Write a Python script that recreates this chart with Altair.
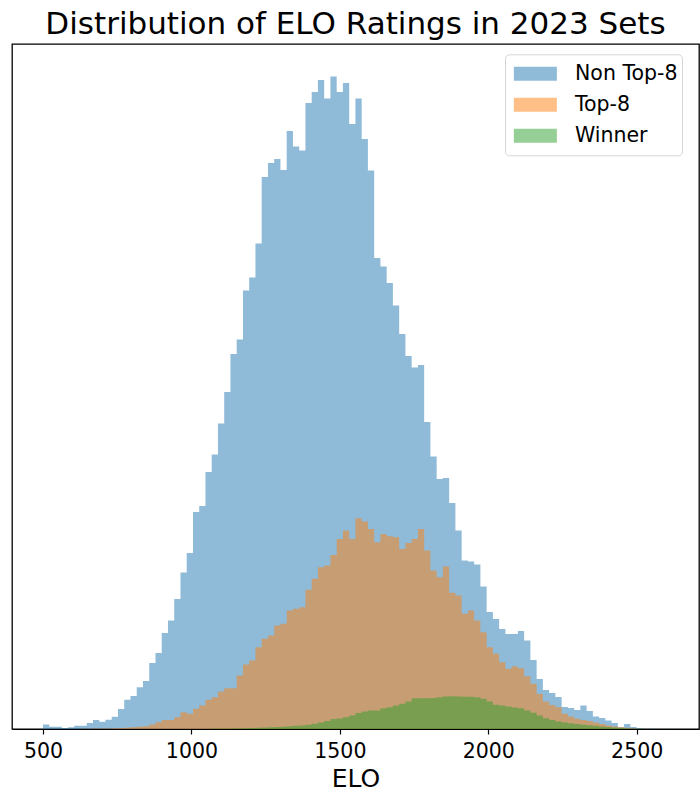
import altair as alt
import pandas as pd

# Shared bin layout of the three histograms (100 equal-width bins)
BIN_START = 500.0
BIN_WIDTH = 21.05

series_names = ["Non Top-8", "Top-8", "Winner"]
series_colors = ["#1f77b4", "#ff7f0e", "#2ca02c"]

# Bar heights per bin, left to right
non_top8 = [
    4.5, 2.3, 2.3, 1.0, 1.7, 3.3, 3.3, 6.0, 9.0, 7.3,
    9.3, 12.3, 20.0, 29.3, 33.0, 41.7, 48.0, 66.0, 76.0, 96.0,
    108.5, 130.0, 156.5, 176.0, 217.0, 223.0, 257.0, 274.5, 305.5, 337.0,
    375.0, 389.5, 438.5, 451.5, 485.5, 552.0, 566.0, 570.0, 559.0, 598.0,
    582.5, 578.5, 626.0, 637.0, 649.0, 630.5, 652.5, 637.0, 646.0, 605.0,
    630.5, 590.0, 558.5, 471.0, 462.5, 446.0, 423.5, 395.0, 373.0, 361.5,
    364.0, 307.0, 272.5, 250.0, 251.0, 226.0, 198.5, 168.5, 167.5, 164.5,
    142.5, 117.0, 110.0, 100.0, 95.0, 95.0, 98.0, 88.5, 69.0, 50.0,
    39.0, 36.0, 32.0, 22.0, 21.0, 19.0, 23.5, 18.0, 12.5, 11.0,
    8.5, 6.0, 2.0, 5.0, 2.0, 1.0, 0.5, 0.3, 0.0, 0.3,
]
top8 = [
    0.0, 0.0, 0.0, 0.0, 0.0, 0.0, 0.2, 0.3, 0.4, 0.5,
    0.6, 0.8, 1.0, 1.3, 1.8, 2.2, 2.8, 4.5, 6.8, 9.0,
    9.0, 11.8, 16.8, 15.2, 20.2, 23.5, 29.2, 31.8, 37.5, 40.8,
    40.8, 53.5, 64.5, 68.5, 81.8, 90.2, 93.5, 103.5, 105.2, 118.5,
    120.2, 121.8, 139.2, 150.2, 161.8, 163.5, 174.0, 190.0, 198.5, 190.0,
    210.8, 207.5, 200.0, 186.8, 195.0, 192.8, 191.8, 180.0, 186.0, 190.0,
    200.0, 178.5, 158.5, 151.8, 162.5, 136.2, 133.5, 115.2, 118.5, 108.5,
    96.8, 81.8, 75.2, 66.8, 60.2, 62.8, 60.8, 52.8, 45.2, 35.0,
    27.5, 24.0, 21.8, 15.2, 12.5, 10.2, 9.0, 8.0, 6.5, 5.0,
    3.5, 2.5, 1.8, 1.2, 0.6, 0.3, 0.2, 0.0, 0.0, 0.0,
]
winner = [
    0.0, 0.0, 0.0, 0.0, 0.0, 0.0, 0.0, 0.0, 0.0, 0.0,
    0.0, 0.0, 0.0, 0.0, 0.0, 0.0, 0.0, 0.0, 0.0, 0.0,
    0.0, 0.0, 0.0, 0.0, 0.0, 0.1, 0.1, 0.2, 0.2, 0.3,
    0.4, 0.5, 0.8, 1.0, 1.2, 1.4, 1.8, 2.0, 2.3, 2.8,
    3.2, 3.6, 4.3, 5.2, 6.5, 8.0, 10.0, 10.5, 11.8, 13.5,
    16.0, 17.5, 18.5, 18.5, 20.8, 21.8, 23.5, 25.2, 27.5, 30.8,
    30.8, 30.8, 31.0, 31.8, 32.5, 32.8, 32.5, 32.2, 32.2, 31.8,
    30.2, 27.5, 24.2, 23.5, 22.5, 21.5, 20.8, 18.5, 16.2, 13.5,
    10.8, 9.0, 7.5, 6.5, 5.8, 5.0, 4.3, 3.8, 3.2, 2.6,
    2.0, 1.5, 1.0, 0.6, 0.3, 0.2, 0.1, 0.0, 0.0, 0.0,
]

x_ticks = [500, 1000, 1500, 2000, 2500]


def step_rows(name, counts):
    """One row per bin left edge, plus the closing right edge of the last bin."""
    rows = [
        {"series": name, "elo": BIN_START + k * BIN_WIDTH, "count": c}
        for k, c in enumerate(counts)
    ]
    rows.append({"series": name, "elo": BIN_START + len(counts) * BIN_WIDTH, "count": counts[-1]})
    return rows


records = []
for name, counts in zip(series_names, [non_top8, top8, winner]):
    records += step_rows(name, counts)
df = pd.DataFrame(records)

x_lo = BIN_START - 104.5
x_hi = BIN_START + 100 * BIN_WIDTH + 105.0
y_hi = max(non_top8) * 1.05

legend_shape = "M-0.767,-0.326L1.233,-0.326L1.233,0.326L-0.767,0.326Z"

base = alt.Chart(df).mark_area(interpolate="step-after", opacity=0.5).encode(
    x=alt.X(
        "elo:Q",
        scale=alt.Scale(domain=[x_lo, x_hi], nice=False, zero=False),
        axis=alt.Axis(
            values=x_ticks,
            format="d",
            title="ELO",
            grid=False,
            labelFontSize=20.5,
            labelColor="black",
            labelPadding=7.5,
            tickSize=5,
            tickColor="black",
            tickWidth=1.2,
            domainColor="black",
            domainWidth=1.2,
            titleFontSize=25,
            titleFontWeight="normal",
            titleColor="black",
            titleBaseline="alphabetic",
            titleY=57.5,
        ),
    ),
    y=alt.Y("count:Q", stack=None, scale=alt.Scale(domain=[0, y_hi], nice=False), axis=None),
    color=alt.Color(
        "series:N",
        scale=alt.Scale(domain=series_names, range=series_colors),
        legend=alt.Legend(
            title=None,
            orient="none",
            legendX=493,
            legendY=10.3,
            padding=3.85,
            fillColor="white",
            strokeColor="#d6d6d6",
            cornerRadius=4,
            symbolType=legend_shape,
            symbolSize=1849,
            symbolOpacity=0.5,
            symbolStrokeWidth=0,
            labelFontSize=20.5,
            labelColor="black",
            labelOffset=23.15,
            labelLimit=300,
            clipHeight=31,
            rowPadding=0,
        ),
    ),
)

chart = alt.layer(
    *[base.transform_filter(alt.datum.series == name) for name in series_names]
).properties(
    width=687,
    height=685,
    autosize=alt.AutoSizeParams(type="none"),
    padding={"left": 12, "top": 44, "right": 1, "bottom": 59},
    title=alt.TitleParams(
        text="Distribution of ELO Ratings in 2023 Sets",
        fontSize=31,
        fontWeight="normal",
        color="black",
        anchor="middle",
        offset=3,
    ),
).configure(
    font="DejaVu Sans",
).configure_view(
    stroke="black",
    strokeWidth=1.3,
)

chart.save("out.html", embed_options={"renderer": "svg", "actions": False})
